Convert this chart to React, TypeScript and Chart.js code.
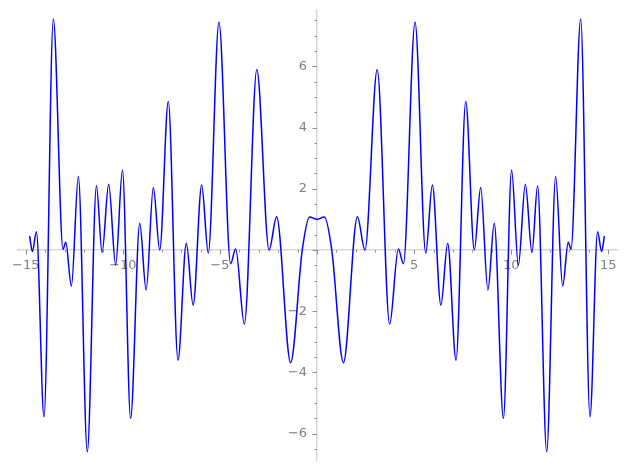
import React, { useEffect, useRef } from "react";
import { Chart, registerables } from "chart.js";

Chart.register(...registerables);

// Curve sample points (local extrema and end points)
const xValues = [
  -14.8, -14.66, -14.45, -14.06, -13.58, -13.08, -12.94, -12.65, -12.29, -11.83,
  -11.36, -11.07, -10.73, -10.37, -10.02, -9.6, -9.13, -8.8, -8.43, -8.1,
  -7.66, -7.16, -6.73, -6.38, -5.94, -5.6, -5.05, -4.45, -4.19, -3.74,
  -3.1, -2.47, -2.08, -1.36, -0.76, -0.38, 0, 0.38, 0.76, 1.36,
  2.08, 2.47, 3.1, 3.74, 4.19, 4.45, 5.05, 5.6, 5.94, 6.38,
  6.73, 7.16, 7.66, 8.1, 8.43, 8.8, 9.13, 9.6, 10.02, 10.37,
  10.73, 11.07, 11.36, 11.83, 12.29, 12.65, 12.94, 13.08, 13.58, 14.06,
  14.45, 14.66, 14.8,
];
const yValues = [
  0.45, -0.05, 0.6, -5.45, 7.55, 0.02, 0.25, -1.18, 2.4, -6.59,
  2.1, -0.08, 2.15, -0.49, 2.61, -5.5, 0.87, -1.31, 2.04, 0.0,
  4.85, -3.6, 0.22, -1.8, 2.12, -0.1, 7.44, -0.45, 0.03, -2.42,
  5.9, 0.0, 1.09, -3.68, 0.0, 1.08, 1.0, 1.08, 0.0, -3.68,
  1.09, 0.0, 5.9, -2.42, 0.03, -0.45, 7.44, -0.1, 2.12, -1.8,
  0.22, -3.6, 4.85, 0.0, 2.04, -1.31, 0.87, -5.5, 2.61, -0.49,
  2.15, -0.08, 2.1, -6.59, 2.4, -1.18, 0.25, 0.02, 7.55, -5.45,
  0.6, -0.05, 0.45,
];

// Tick labels
const xLabelTicks = [-15, -10, -5, 5, 10, 15];
const yLabelTicks = [-6, -4, -2, 2, 4, 6];
// Tick marks
const xTickMarks = [
  -15, -14, -13, -12, -11, -10, -9, -8, -7, -6, -5, -4, -3, -2, -1, 0,
  1, 2, 3, 4, 5, 6, 7, 8, 9, 10, 11, 12, 13, 14, 15,
];
const yTickMarks = [
  -6.5, -6, -5.5, -5, -4.5, -4, -3.5, -3, -2.5, -2, -1.5, -1, -0.5, 0,
  0.5, 1, 1.5, 2, 2.5, 3, 3.5, 4, 4.5, 5, 5.5, 6, 6.5, 7, 7.5,
];

const AXIS_COLOR = "#d6d6d6";
const TICK_COLOR = "#8f8f8f";
const LABEL_COLOR = "#808080";
const FONT_FAMILY = "'DejaVu Sans', sans-serif";
const FONT_SIZE = 13;

const fmt = (v: number) => (v < 0 ? "\u2212" + Math.abs(v) : String(v));

const tickPlugin = {
  id: "sageTicks",
  beforeDatasetsDraw(chart: any) {
    const { ctx } = chart;
    const xs = chart.scales.x;
    const ys = chart.scales.y;
    const x0 = xs.getPixelForValue(0);
    const y0 = ys.getPixelForValue(0);
    ctx.save();
    ctx.strokeStyle = TICK_COLOR;
    ctx.lineWidth = 1;
    ctx.beginPath();
    for (const v of xTickMarks) {
      const px = Math.round(xs.getPixelForValue(v)) + 0.5;
      const len = v % 5 === 0 ? 4.5 : 2.5;
      ctx.moveTo(px, y0);
      ctx.lineTo(px, y0 + len);
    }
    for (const v of yTickMarks) {
      const py = Math.round(ys.getPixelForValue(v)) + 0.5;
      const len = v % 2 === 0 ? 4.5 : 2.5;
      ctx.moveTo(x0 - len, py);
      ctx.lineTo(x0, py);
    }
    ctx.stroke();
    // y tick labels, right-aligned left of the vertical axis
    ctx.fillStyle = LABEL_COLOR;
    ctx.font = `${FONT_SIZE}px ${FONT_FAMILY}`;
    ctx.textAlign = "right";
    ctx.textBaseline = "middle";
    for (const v of yLabelTicks) {
      ctx.fillText(fmt(v), x0 - 10, ys.getPixelForValue(v));
    }
    ctx.restore();
  },
};

export default function App() {
  const ref = useRef<HTMLCanvasElement | null>(null);
  useEffect(() => {
    if (!ref.current) return;
    const points = xValues.map((x, i) => ({ x, y: yValues[i] }));
    const chart = new Chart(ref.current, {
      type: "line",
      data: {
        datasets: [
          {
            data: points,
            borderColor: "#0000ff",
            borderWidth: 1.5,
            pointRadius: 0,
            fill: false,
            cubicInterpolationMode: "monotone",
          },
        ],
      },
      options: {
        animation: false,
        responsive: false,
        events: [],
        layout: { padding: { left: 18, right: 10, top: 10, bottom: 10 } },
        plugins: { legend: { display: false }, tooltip: { enabled: false } },
        scales: {
          x: {
            type: "linear",
            position: { y: 0 } as any,
            min: -15.4,
            max: 15.45,
            grid: { display: false, drawTicks: false },
            border: { display: true, color: AXIS_COLOR, width: 1.5 },
            afterBuildTicks: (s: any) => {
              s.ticks = xLabelTicks.map((v) => ({ value: v }));
            },
            ticks: {
              color: LABEL_COLOR,
              font: { family: FONT_FAMILY, size: FONT_SIZE },
              padding: 8,
              maxRotation: 0,
              autoSkip: false,
              callback: (v: any) => fmt(Number(v)),
            },
          },
          y: {
            type: "linear",
            position: { x: 0 } as any,
            min: -6.86,
            max: 7.84,
            grid: { display: false, drawTicks: false },
            border: { display: true, color: AXIS_COLOR, width: 1.5 },
            afterBuildTicks: (s: any) => {
              s.ticks = yLabelTicks.map((v) => ({ value: v }));
            },
            ticks: { display: false, padding: 0 },
          },
        },
      },
      plugins: [tickPlugin],
    });
    return () => chart.destroy();
  }, []);
  return (
    <div style={{ position: "absolute", left: 0, top: 0, width: 627, height: 470, background: "#fff" }}>
      <canvas ref={ref} width={627} height={470} style={{ display: "block" }} />
    </div>
  );
}
